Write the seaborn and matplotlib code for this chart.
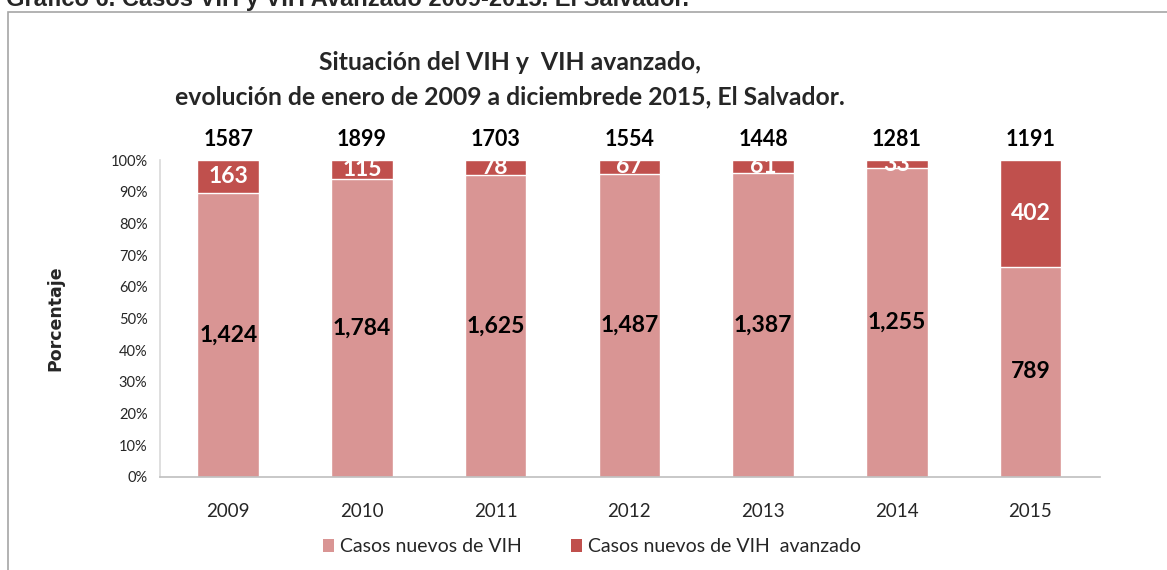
import matplotlib
matplotlib.use("Agg")
import matplotlib.pyplot as plt
import seaborn as sns
from matplotlib.patches import Rectangle, Patch

# -------------------------------
# Data
# -------------------------------
years = ["2009", "2010", "2011", "2012", "2013", "2014", "2015"]
vih_nuevos = [1424, 1784, 1625, 1487, 1387, 1255, 789]
vih_avanzado = [163, 115, 78, 67, 61, 33, 402]
totales = [1587, 1899, 1703, 1554, 1448, 1281, 1191]
y_ticks = [0, 10, 20, 30, 40, 50, 60, 70, 80, 90, 100]

light = "#D99594"
dark = "#C0504D"

# percentages of each segment
pct_nuevos = [100 * n / (n + a) for n, a in zip(vih_nuevos, vih_avanzado)]
pct_total = [100 for _ in years]

sns.set_style("white")
plt.rcParams["font.family"] = ["Lato", "DejaVu Sans"]

fig = plt.figure(figsize=(11.67, 5.70), dpi=100)
ax = fig.add_axes([160 / 1167, 1 - 477 / 570, 940 / 1167, 317 / 570])

# stacked bars: full bar in dark, new cases drawn on top in light
sns.barplot(x=years, y=pct_total, color=dark, width=0.46, saturation=1, ax=ax)
sns.barplot(x=years, y=pct_nuevos, color=light, width=0.46, saturation=1, ax=ax)

ax.set_ylim(0, 100)
ax.set_xlim(-0.51, 6.52)
ax.set_yticks(y_ticks)
ax.set_yticklabels([f"{t}%" for t in y_ticks], fontsize=10.5)
ax.tick_params(axis="x", labelsize=13.5, pad=19, length=0)
ax.tick_params(axis="y", pad=9, length=0)

for side in ["top", "right"]:
    ax.spines[side].set_visible(False)
ax.spines["left"].set_color("#D9D9D9")
ax.spines["bottom"].set_color("#BFBFBF")
ax.spines["left"].set_linewidth(1.2)
ax.spines["bottom"].set_linewidth(1.2)

# segment labels
for i in range(len(years)):
    ax.text(i, pct_nuevos[i] / 2, f"{vih_nuevos[i]:,}", ha="center", va="center",
            fontsize=16.5, fontweight="bold", color="black")
    ax.text(i, (pct_nuevos[i] + 100) / 2, f"{vih_avanzado[i]}", ha="center", va="center",
            fontsize=16.5, fontweight="bold", color="white", clip_on=True)
    ax.text(i, 106.5, f"{totales[i]}", ha="center", va="center",
            fontsize=15.5, fontweight="bold", color="black", clip_on=False)

ax.set_xlabel("")
ax.set_ylabel("Porcentaje", fontsize=12.5, fontweight="bold", family="DejaVu Sans", labelpad=33)

# title
fig.text(510 / 1167, 1 - 63 / 570, "Situación del VIH y  VIH avanzado,", ha="center", va="center",
         fontsize=17.8, fontweight="bold")
fig.text(510 / 1167, 1 - 97 / 570, "evolución de enero de 2009 a diciembrede 2015, El Salvador.",
         ha="center", va="center", fontsize=17.8, fontweight="bold")

# header line cut off at the top of the image
fig.text(6 / 1167, 1 - 6 / 570, "Gráfico 6. Casos VIH y VIH Avanzado 2009-2015. El Salvador.",
         ha="left", va="baseline", fontsize=17, fontweight="bold", family="Liberation Sans")

# chart border
fig.patches.append(Rectangle((8 / 1167, -0.1), 1.2, 1 - 12 / 570 + 0.1, transform=fig.transFigure,
                             fill=False, edgecolor="#A6A6A6", linewidth=1.2))

# legend
handles = [Patch(facecolor=light, edgecolor="none"), Patch(facecolor=dark, edgecolor="none")]
fig.legend(handles, ["Casos nuevos de VIH", "Casos nuevos de VIH  avanzado"],
           loc="center", bbox_to_anchor=(592 / 1167, 1 - 547 / 570), ncol=2, frameon=False,
           fontsize=14, handlelength=0.6, handleheight=0.6, handletextpad=0.3, columnspacing=2.5)

fig.savefig("out.png", dpi=100)
